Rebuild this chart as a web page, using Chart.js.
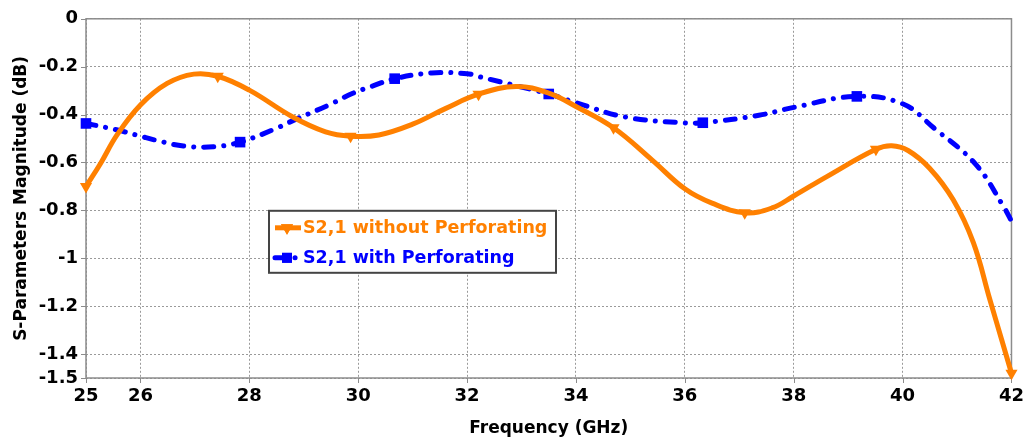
<!DOCTYPE html>
<html>
<head>
<meta charset="utf-8">
<script src="https://cdn.jsdelivr.net/npm/chart.js@4/dist/chart.umd.min.js"></script>
<style>
  html, body { margin: 0; padding: 0; background: #fff; }
</style>
</head>
<body>
<canvas id="s21-chart" width="1032" height="440"></canvas>
<script>
// axis ticks
const freqTicks = [25, 26, 28, 30, 32, 34, 36, 38, 40, 42];
const magTicks = [0, -0.2, -0.4, -0.6, -0.8, -1, -1.2, -1.4, -1.5];

// S2,1 without perforating (GHz / dB)
const freqNoPerf = [25, 25.27, 25.57, 26, 26.49, 26.98, 27.42, 28, 28.79, 29.4, 29.86, 30.38, 31, 31.6,
  32.21, 32.9, 33.5, 34, 34.69, 35.4, 36, 36.5, 37.1, 37.6, 38, 38.6, 39.51, 39.8, 40.1, 40.5, 40.93,
  41.3, 41.6, 41.82, 42];
const magNoPerf = [-0.70, -0.603, -0.485, -0.36, -0.27, -0.231, -0.24, -0.298, -0.409, -0.472, -0.49, -0.485, -0.44, -0.375,
  -0.315, -0.283, -0.31, -0.366, -0.455, -0.59, -0.71, -0.77, -0.81, -0.79, -0.74, -0.66, -0.545, -0.53, -0.55, -0.625, -0.756,
  -0.935, -1.17, -1.34, -1.48];
const markNoPerf = [25, 27.42, 29.86, 32.21, 34.69, 37.1, 39.51, 42];

// S2,1 with perforating (GHz / dB)
const freqPerf = [25, 25.39, 25.66, 26, 26.3, 26.79, 27.34, 27.83, 28.49, 28.82, 29.46, 29.89, 30.26, 30.67, 31.35,
  32, 32.21, 33.5, 34, 34.9, 36, 36.33, 37.36, 38, 39.16, 40, 40.57, 41.34, 41.86, 42];
const magPerf = [-0.437, -0.455, -0.469, -0.49, -0.508, -0.531, -0.534, -0.515, -0.458, -0.423, -0.36, -0.312, -0.281, -0.25, -0.226,
  -0.229, -0.241, -0.314, -0.35, -0.41, -0.435, -0.434, -0.403, -0.37, -0.324, -0.355, -0.455, -0.607, -0.786, -0.845];
const markPerf = [25, 27.83, 30.67, 33.5, 36.33, 39.16];

const ORANGE = '#ff8000';
const BLUE = '#0000ff';
const FONT = '"DejaVu Sans", Verdana, sans-serif';

const toPoints = (xs, ys) => xs.map((x, i) => ({ x, y: ys[i] }));

// gray frame round the plot plus short outward tick marks
const plotFrame = {
  id: 'plotFrame',
  beforeDatasetsDraw(chart) {
    const { ctx, chartArea: a, scales } = chart;
    ctx.save();
    ctx.strokeStyle = '#8c8c8c';
    ctx.lineWidth = 1.5;
    ctx.strokeRect(a.left, a.top, a.right - a.left, a.bottom - a.top);
    ctx.lineWidth = 1;
    ctx.beginPath();
    freqTicks.forEach(v => {
      const px = Math.round(scales.x.getPixelForValue(v)) + 0.5;
      ctx.moveTo(px, a.bottom);
      ctx.lineTo(px, a.bottom + 5);
    });
    magTicks.forEach(v => {
      const py = Math.round(scales.y.getPixelForValue(v)) + 0.5;
      ctx.moveTo(a.left - 5, py);
      ctx.lineTo(a.left, py);
    });
    ctx.stroke();
    ctx.restore();
  }
};

// legend box sitting inside the plot
const insideLegend = {
  id: 'insideLegend',
  afterDraw(chart) {
    const { ctx, chartArea: a } = chart;
    const bx = a.left + 183, by = a.top + 192, bw = 287, bh = 62;
    ctx.save();
    ctx.fillStyle = '#fff';
    ctx.fillRect(bx, by, bw, bh);
    ctx.strokeStyle = '#444';
    ctx.lineWidth = 2;
    ctx.strokeRect(bx, by, bw, bh);

    chart.data.datasets.forEach((ds, i) => {
      const ry = by + 17 + i * 30;
      ctx.strokeStyle = ds.borderColor;
      ctx.fillStyle = ds.borderColor;
      ctx.lineWidth = ds.borderWidth;
      ctx.lineCap = ds.borderCapStyle || 'butt';
      ctx.setLineDash(ds.borderDash || []);
      ctx.beginPath();
      ctx.moveTo(bx + 6, ry);
      ctx.lineTo(bx + 32, ry);
      ctx.stroke();
      ctx.setLineDash([]);
      Chart.helpers.drawPoint(ctx, {
        pointStyle: ds.pointStyle,
        radius: ds.legendRadius,
        rotation: ds.pointRotation || 0,
        borderWidth: 0
      }, bx + 18, ry);
      ctx.fill();

      ctx.font = 'bold 17.5px ' + FONT;
      ctx.textBaseline = 'middle';
      ctx.textAlign = 'left';
      ctx.fillText(ds.label, bx + 34, ry + 1);
    });
    ctx.restore();
  }
};

new Chart(document.getElementById('s21-chart'), {
  type: 'line',
  data: {
    datasets: [
      {
        label: 'S2,1 without Perforating',
        data: toPoints(freqNoPerf, magNoPerf),
        borderColor: ORANGE,
        backgroundColor: ORANGE,
        borderWidth: 5,
        tension: 0.4,
        pointStyle: 'triangle',
        pointRotation: 180,
        legendRadius: 7,
        pointRadius: c => markNoPerf.includes(c.raw.x) ? 7 : 0,
        pointBorderWidth: 0,
        pointHoverRadius: 0,
        clip: false
      },
      {
        label: 'S2,1 with Perforating',
        data: toPoints(freqPerf, magPerf),
        borderColor: BLUE,
        backgroundColor: BLUE,
        borderWidth: 5,
        borderDash: [10, 10, 0.1, 10],
        borderCapStyle: 'round',
        tension: 0.4,
        pointStyle: 'rect',
        legendRadius: 7,
        pointRadius: c => markPerf.includes(c.raw.x) ? 7.5 : 0,
        pointBorderWidth: 0,
        pointHoverRadius: 0,
        clip: false
      }
    ]
  },
  options: {
    responsive: false,
    animation: false,
    devicePixelRatio: 1,
    layout: { padding: { top: 18, right: 17, bottom: 0, left: 0 } },
    plugins: {
      legend: { display: false },
      tooltip: { enabled: false }
    },
    scales: {
      x: {
        type: 'linear',
        min: 25,
        max: 42,
        afterBuildTicks: axis => { axis.ticks = freqTicks.map(v => ({ value: v })); },
        afterFit: axis => { axis.height = 62; },
        ticks: {
          color: '#000',
          font: { family: FONT, size: 18, weight: 'bold' },
          padding: 8,
          maxRotation: 0,
          autoSkip: false
        },
        grid: { color: '#9a9a9a', lineWidth: 1, drawTicks: false },
        border: { display: false, dash: [2, 2] },
        title: {
          display: true,
          text: 'Frequency (GHz)',
          color: '#000',
          font: { family: FONT, size: 17, weight: 'bold' },
          padding: { top: 0, bottom: 1 }
        }
      },
      y: {
        min: -1.5,
        max: 0,
        afterBuildTicks: axis => { axis.ticks = magTicks.map(v => ({ value: v })); },
        afterFit: axis => { axis.width = 86; },
        ticks: {
          color: '#000',
          font: { family: FONT, size: 18, weight: 'bold' },
          padding: 8,
          autoSkip: false,
          callback: v => String(+v.toFixed(1))
        },
        grid: { color: '#9a9a9a', lineWidth: 1, drawTicks: false },
        border: { display: false, dash: [2, 2] },
        title: {
          display: true,
          text: 'S-Parameters Magnitude (dB)',
          color: '#000',
          font: { family: FONT, size: 17, weight: 'bold' },
          padding: { top: 11, bottom: 0 }
        }
      }
    }
  },
  plugins: [plotFrame, insideLegend]
});
</script>
</body>
</html>
